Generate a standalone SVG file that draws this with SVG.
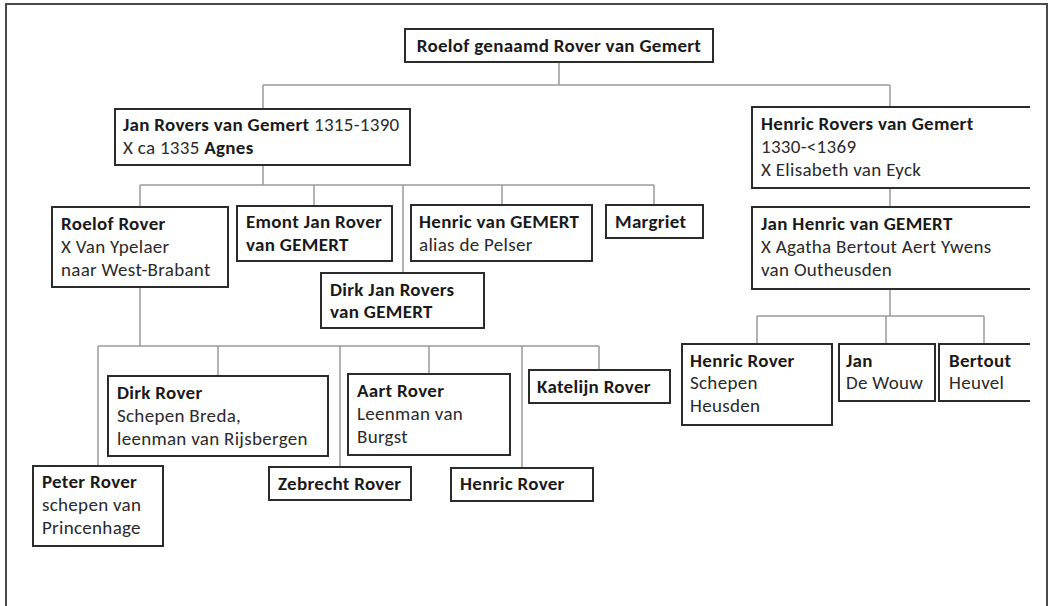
<svg xmlns="http://www.w3.org/2000/svg" width="1051" height="606" viewBox="0 0 1051 606">
<style>
.bx{fill:#fff;stroke:#2b2b2b;stroke-width:2}
.ln{fill:none;stroke:#9a9a9a;stroke-width:1.5}
text{font-family:Carlito,Lato,"Open Sans",sans-serif;font-size:19px;letter-spacing:0.3px;fill:#2a2a2a}
.b{font-weight:bold;fill:#1a1a1a}
</style>
<defs><clipPath id="cr"><rect x="0" y="0" width="1030" height="606"/></clipPath></defs>
<rect x="0" y="0" width="1051" height="606" fill="#fff"/>
<rect x="6" y="4" width="1041" height="620" fill="none" stroke="#4a4a4a" stroke-width="2"/>
<g id="connectors">
<path class="ln" d="M559 62V85M263 85H890M263 85V109M890 85V107"/>
<path class="ln" d="M263 165V185M140 185H654M140 185V207M314 185V206M403 185V273M502 185V205M654 185V205"/>
<path class="ln" d="M140 287V346M98 346H599M98 346V466M218 346V376M340 346V467M429 346V374M522 346V468M599 346V370"/>
<path class="ln" d="M890 188V207M890 289V316M757 316H984M757 316V344M886 316V344M984 316V344"/>
</g>
<g id="root"><rect class="bx" x="405" y="29" width="308" height="33"/><text class="b" x="559" y="52" text-anchor="middle">Roelof genaamd Rover van Gemert</text></g>
<g id="jan"><rect class="bx" x="115" y="109" width="295" height="56"/><text x="123" y="131"><tspan class="b">Jan Rovers van Gemert</tspan> 1315-1390</text><text x="123" y="154">X ca 1335 <tspan class="b">Agnes</tspan></text></g>
<g id="henricRovers" clip-path="url(#cr)"><rect class="bx" x="752" y="107" width="300" height="81"/><text class="b" x="761" y="130">Henric Rovers van Gemert</text><text x="761" y="153">1330-&lt;1369</text><text x="761" y="176">X Elisabeth van Eyck</text></g>
<g id="janHenric" clip-path="url(#cr)"><rect class="bx" x="752" y="207" width="300" height="82"/><text class="b" x="761" y="230">Jan Henric van GEMERT</text><text x="761" y="253">X Agatha Bertout Aert Ywens</text><text x="761" y="276">van Outheusden</text></g>
<g id="roelofRover"><rect class="bx" x="52" y="207" width="176" height="80"/><text class="b" x="61" y="230">Roelof Rover</text><text x="61" y="253">X Van Ypelaer</text><text x="61" y="276">naar West-Brabant</text></g>
<g id="emont"><rect class="bx" x="237" y="206" width="155" height="55"/><text class="b" x="246" y="228">Emont Jan Rover</text><text class="b" x="246" y="251">van GEMERT</text></g>
<g id="henricVanGemert"><rect class="bx" x="411" y="205" width="181" height="56"/><text class="b" x="419" y="228">Henric van GEMERT</text><text x="419" y="251">alias de Pelser</text></g>
<g id="margriet"><rect class="bx" x="606" y="205" width="97" height="33"/><text class="b" x="615" y="228">Margriet</text></g>
<g id="dirkJan"><rect class="bx" x="321" y="273" width="163" height="55"/><text class="b" x="330" y="296">Dirk Jan Rovers</text><text class="b" x="330" y="318">van GEMERT</text></g>
<g id="dirkRover"><rect class="bx" x="108" y="376" width="220" height="80"/><text class="b" x="117" y="399">Dirk Rover</text><text x="117" y="422">Schepen Breda,</text><text x="117" y="445">leenman van Rijsbergen</text></g>
<g id="aart"><rect class="bx" x="348" y="374" width="162" height="81"/><text class="b" x="357" y="397">Aart Rover</text><text x="357" y="420">Leenman van</text><text x="357" y="443">Burgst</text></g>
<g id="katelijn"><rect class="bx" x="529" y="370" width="141" height="33"/><text class="b" x="537" y="393">Katelijn Rover</text></g>
<g id="peter"><rect class="bx" x="33" y="466" width="130" height="80"/><text class="b" x="42" y="488">Peter Rover</text><text x="42" y="511">schepen van</text><text x="42" y="534">Princenhage</text></g>
<g id="zebrecht"><rect class="bx" x="269" y="467" width="142" height="33"/><text class="b" x="278" y="490">Zebrecht Rover</text></g>
<g id="henricRover"><rect class="bx" x="451" y="468" width="142" height="33"/><text class="b" x="460" y="490">Henric Rover</text></g>
<g id="henricHeusden"><rect class="bx" x="682" y="344" width="150" height="81"/><text class="b" x="690" y="367">Henric Rover</text><text x="690" y="389">Schepen</text><text x="690" y="412">Heusden</text></g>
<g id="janWouw"><rect class="bx" x="839" y="344" width="96" height="57"/><text class="b" x="846" y="367">Jan</text><text x="846" y="389">De Wouw</text></g>
<g id="bertout" clip-path="url(#cr)"><rect class="bx" x="939" y="344" width="120" height="57"/><text class="b" x="949" y="367">Bertout</text><text x="949" y="389">Heuvel</text></g>
</svg>
